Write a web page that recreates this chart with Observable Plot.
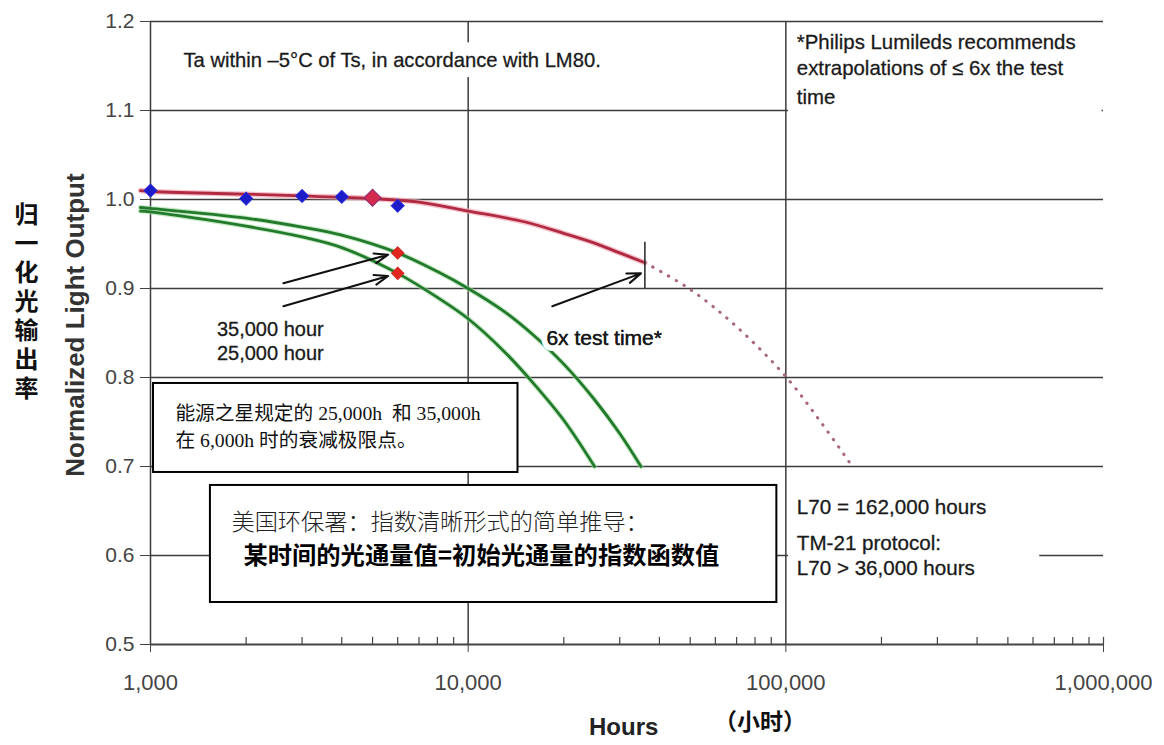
<!DOCTYPE html>
<html>
<head>
<meta charset="utf-8">
<script src="https://cdn.jsdelivr.net/npm/d3@7"></script>
<script src="https://cdn.jsdelivr.net/npm/@observablehq/plot@0.6"></script>
<style>
  html, body { margin: 0; padding: 0; background: #fff; }
  #wrap { position: relative; width: 1164px; height: 745px; overflow: hidden; font-family: "Liberation Sans", Arial, sans-serif; }
  #chart { position: absolute; left: 0; top: 0; }
  .ytitle { position: absolute; left: 75px; top: 325px; transform: translate(-50%, -50%) rotate(-90deg); white-space: nowrap;
            font: bold 26px "Liberation Sans", Arial, sans-serif; color: #333; }
  .ytitle-cn { position: absolute; left: 9px; top: 202px; writing-mode: vertical-rl; letter-spacing: 5px;
               font: bold 24px "Noto Sans CJK SC", sans-serif; color: #111; }
  .xtitle { position: absolute; left: 589px; top: 713px; font: bold 24px "Liberation Sans", Arial, sans-serif; color: #222; }
  .xtitle-cn { position: absolute; left: 714px; top: 703px; font: 600 23px "Noto Sans CJK SC", sans-serif; color: #111; }
</style>
</head>
<body>
<div id="wrap">
  <div id="chart"></div>
  <div class="ytitle">Normalized Light Output</div>
  <div class="ytitle-cn">归一化光输出率</div>
  <div class="xtitle">Hours</div>
  <div class="xtitle-cn">（小时）</div>
</div>
<script>
// ---- data ----
const xTicks = [1000, 10000, 100000, 1000000];
const xMinor = [2000,3000,4000,5000,6000,7000,8000,9000,20000,30000,40000,50000,60000,70000,80000,90000,200000,300000,400000,500000,600000,700000,800000,900000,1000000];
const yTicks = [0.5, 0.6, 0.7, 0.8, 0.9, 1.0, 1.1, 1.2];
const yGrid = [0.6, 0.7, 0.8, 0.9, 1.0, 1.1, 1.2];
const xGrid = [10000, 100000];

const hoursMeasured = [1000, 2000, 3000, 4000, 5000, 6000];
const outputMeasured = [1.010, 1.001, 1.004, 1.003, 1.002, 0.993];

const hoursFit = [930, 1000, 2000, 3000, 5000, 7000, 10000, 15000, 20000, 25000, 30000, 36000];
const outputFit = [1.010, 1.009, 1.006, 1.004, 1.001, 0.997, 0.987, 0.975, 0.962, 0.951, 0.940, 0.929];

const hoursExtrap = [36000, 50000, 70000, 100000, 130000, 162000];
const outputExtrap = [0.929, 0.899, 0.857, 0.801, 0.748, 0.700];

const hours35k = [930, 1000, 2000, 3000, 4000, 6000, 8000, 10000, 13000, 16000, 20000, 25000, 30000, 35000];
const output35k = [0.991, 0.990, 0.979, 0.969, 0.960, 0.940, 0.919, 0.900, 0.874, 0.848, 0.815, 0.775, 0.737, 0.700];

const hours25k = [930, 1000, 2000, 3000, 4000, 6000, 8000, 10000, 13000, 16000, 20000, 25000];
const output25k = [0.987, 0.986, 0.970, 0.958, 0.946, 0.917, 0.890, 0.866, 0.829, 0.794, 0.752, 0.700];

const limitHours = [6000, 6000];
const limitOutput = [0.940, 0.917];
const projectionHours = [5000];
const projectionOutput = [1.002];
const testTimeHours = [36000];

// annotation anchors (data coordinates)
const arrowX1 = [2620, 2620, 18400];
const arrowY1 = [0.906, 0.880, 0.880];
const arrowX2 = [5600, 5600, 35000];
const arrowY2 = [0.938, 0.914, 0.917];

const noteTopLeft = "Ta within \u20135\u00b0C of Ts, in accordance with LM80.";
const noteTopRight = ["*Philips Lumileds recommends", "extrapolations of \u2264 6x the test", "time"];
const noteTopRightY = [1.1764, 1.1472, 1.1146];
const noteRight = ["L70 = 162,000 hours", "TM-21 protocol:", "L70 > 36,000 hours"];
const noteRightY = [0.654, 0.6135, 0.5854];
const hourLabels = ["35,000 hour", "25,000 hour"];
const hourLabelY = [0.854, 0.827];
const box1Lines = ["能源之星规定的 25,000h  和 35,000h", "在 6,000h 时的衰减极限点。"];
const box1Y = [0.7596, 0.7292];
const box2Line1 = "美国环保署：指数清晰形式的简单推导：";
const box2Line2 = "某时间的光通量值=初始光通量的指数函数值";

// ---- build tables ----
const zip = (xs, ys) => xs.map((x, i) => ({x, y: ys[i]}));
const measured = zip(hoursMeasured, outputMeasured);
const fit = zip(hoursFit, outputFit);
const extrap = zip(hoursExtrap, outputExtrap);
const g35 = zip(hours35k, output35k);
const g25 = zip(hours25k, output25k);
const limits = zip(limitHours, limitOutput);
const projection = zip(projectionHours, projectionOutput);
const arrows = arrowX1.map((x1, i) => ({x1, y1: arrowY1[i], x2: arrowX2[i], y2: arrowY2[i]}));

const SANS = "Liberation Sans, Arial, sans-serif";
const txt = "#1a1a1a";
const grid = "#3c3c3c";

const chart = Plot.plot({
  width: 1164,
  height: 745,
  marginLeft: 150,
  marginRight: 61,
  marginTop: 21,
  marginBottom: 101,
  style: {background: "#fff", fontFamily: SANS, overflow: "visible"},
  x: {type: "log", domain: [1000, 1000000]},
  y: {domain: [0.5, 1.2]},
  marks: [
    // gridlines
    Plot.ruleY(yGrid, {stroke: grid, strokeWidth: 1.5}),
    Plot.ruleX(xGrid, {stroke: grid, strokeWidth: 1.5}),
    // white backgrounds behind notes
    Plot.rect([{x1: 1250, x2: 27000, y1: 1.137, y2: 1.176}], {x1: "x1", x2: "x2", y1: "y1", y2: "y2", fill: "white"}),
    Plot.rect([{x1: 102000, x2: 990000, y1: 1.08, y2: 1.195}], {x1: "x1", x2: "x2", y1: "y1", y2: "y2", fill: "white"}),
    Plot.rect([{x1: 102000, x2: 630000, y1: 0.575, y2: 0.668}], {x1: "x1", x2: "x2", y1: "y1", y2: "y2", fill: "white"}),
    // axis lines
    Plot.ruleX([1000], {stroke: grid, strokeWidth: 1.5}),
    Plot.ruleY([0.5], {stroke: "#444", strokeWidth: 2.2}),
    Plot.ruleX(xMinor, {y1: 0.5, y2: 0.508, stroke: "#444", strokeWidth: 1.2}),
    Plot.axisY({ticks: yTicks, tickFormat: d => d.toFixed(1), tickSize: 10, tickPadding: 6, fontSize: 21, color: "#444", label: null}),
    Plot.axisX({ticks: xTicks, tickFormat: d3.format(","), tickSize: 8, tickPadding: 22, fontSize: 22, color: "#444", label: null}),
    // curves
    Plot.line(g25, {x: "x", y: "y", curve: "catmull-rom", stroke: "#9fdc9f", strokeWidth: 5, strokeOpacity: 0.6}),
    Plot.line(g35, {x: "x", y: "y", curve: "catmull-rom", stroke: "#9fdc9f", strokeWidth: 5, strokeOpacity: 0.6}),
    Plot.line(g25, {x: "x", y: "y", curve: "catmull-rom", stroke: "#237a2c", strokeWidth: 2.8}),
    Plot.line(g35, {x: "x", y: "y", curve: "catmull-rom", stroke: "#237a2c", strokeWidth: 2.8}),
    Plot.line(fit, {x: "x", y: "y", curve: "catmull-rom", stroke: "#f2a8b6", strokeWidth: 5.5, strokeOpacity: 0.7}),
    Plot.line(fit, {x: "x", y: "y", curve: "catmull-rom", stroke: "#b02a42", strokeWidth: 2.8}),
    Plot.line(extrap, {x: "x", y: "y", curve: "catmull-rom", stroke: "#a86878", strokeWidth: 3, strokeDasharray: "0.5,8.5", strokeLinecap: "round"}),
    // 6x test time marker
    Plot.ruleX(testTimeHours, {y1: 0.9, y2: 0.952, stroke: "#222", strokeWidth: 1.5}),
    // points
    Plot.dot(measured, {x: "x", y: "y", symbol: "square", rotate: 45, r: 5.4, fill: "#1c1cc8", stroke: "#3030e0", strokeWidth: 0.8}),
    Plot.dot(projection, {x: "x", y: "y", symbol: "square", rotate: 45, r: 6.8, fill: "#d42a4e", stroke: "#8a2a70", strokeWidth: 1}),
    Plot.dot(limits, {x: "x", y: "y", symbol: "square", rotate: 45, r: 5.2, fill: "#e0261e", stroke: "#c01a1a", strokeWidth: 0.6}),
    // arrows
    Plot.arrow(arrows, {x1: "x1", y1: "y1", x2: "x2", y2: "y2", stroke: "#111", strokeWidth: 2, headLength: 11, headAngle: 40}),
    // notes
    Plot.text([noteTopLeft], {x: 1270, y: 1.1562, text: d => d, textAnchor: "start", fontSize: 20.2, fill: txt, stroke: txt, strokeWidth: 0.3}),
    Plot.text(noteTopRight, {x: 108300, y: (d, i) => noteTopRightY[i], text: d => d, textAnchor: "start", fontSize: 20.4, fill: txt, stroke: txt, strokeWidth: 0.3}),
    Plot.text(noteRight, {x: 108300, y: (d, i) => noteRightY[i], text: d => d, textAnchor: "start", fontSize: 20.6, fill: txt, stroke: txt, strokeWidth: 0.3}),
    Plot.text(hourLabels, {x: 2383, y: (d, i) => hourLabelY[i], text: d => d, textAnchor: "middle", fontSize: 20, fill: txt, stroke: txt, strokeWidth: 0.3}),
    Plot.text(["6x test time*"], {x: 26800, y: 0.844, text: d => d, textAnchor: "middle", fontSize: 21, fill: txt, stroke: "white", strokeWidth: 12}),
    Plot.text(["6x test time*"], {x: 26800, y: 0.844, text: d => d, textAnchor: "middle", fontSize: 21, fill: txt, stroke: txt, strokeWidth: 0.3}),
    // box 1
    Plot.rect([{x1: 1022, x2: 14350, y1: 0.6933, y2: 0.7933}], {x1: "x1", x2: "x2", y1: "y1", y2: "y2", fill: "white", stroke: "#000", strokeWidth: 2}),
    Plot.text(box1Lines, {x: 1198, y: (d, i) => box1Y[i], text: d => d, textAnchor: "start", fontSize: 19.7, fill: "#111", fontFamily: "Liberation Serif, Noto Sans CJK SC, serif"}),
    // box 2
    Plot.rect([{x1: 1544, x2: 93700, y1: 0.5472, y2: 0.6787}], {x1: "x1", x2: "x2", y1: "y1", y2: "y2", fill: "white", stroke: "#000", strokeWidth: 2}),
    Plot.text([box2Line1], {x: 1798, y: 0.637, text: d => d, textAnchor: "start", fontSize: 23.2, fill: "#222", fontWeight: 300, fontFamily: "Noto Sans CJK SC, sans-serif"}),
    Plot.text([box2Line2], {x: 1961, y: 0.5989, text: d => d, textAnchor: "start", fontSize: 24.3, fill: "#000", fontWeight: "bold", fontFamily: "Noto Sans CJK SC, sans-serif"})
  ]
});
document.getElementById("chart").appendChild(chart);
</script>
</body>
</html>
